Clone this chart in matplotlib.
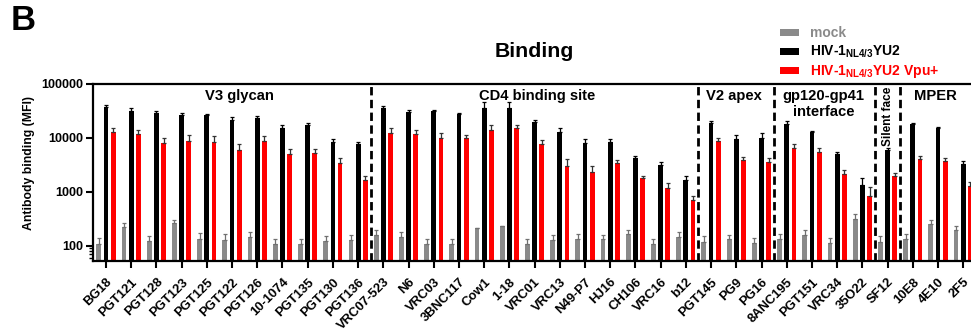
import numpy as np
import matplotlib
matplotlib.use("Agg")
import matplotlib.pyplot as plt
from matplotlib.ticker import FixedLocator, NullFormatter

plt.rcParams['font.family'] = ['Liberation Sans', 'DejaVu Sans']
plt.rcParams['font.weight'] = 'bold'
plt.rcParams['mathtext.fontset'] = 'custom'
plt.rcParams['mathtext.rm'] = 'Liberation Sans'
plt.rcParams['mathtext.bf'] = 'Liberation Sans:bold'

antibodies = ["BG18", "PGT121", "PGT128", "PGT123", "PGT125", "PGT122", "PGT126",
              "10-1074", "PGT135", "PGT130", "PGT136",
              "VRC07-523", "N6", "VRC03", "3BNC117", "Cow1", "1-18", "VRC01", "VRC13",
              "N49-P7", "HJ16", "CH106", "VRC16", "b12",
              "PGT145", "PG9", "PG16",
              "8ANC195", "PGT151", "VRC34", "35O22",
              "SF12",
              "10E8", "4E10", "2F5"]

mock = [109, 222, 124, 259, 135, 127, 143, 107, 110, 122, 129,
        158, 143, 107, 106, 210, 231, 107, 126, 133, 131, 164, 106, 145,
        120, 131, 114,
        135, 160, 114, 312,
        120,
        135, 248, 195]
mock_err = [30, 45, 25, 45, 35, 35, 35, 25, 25, 30, 30,
            35, 35, 25, 25, 0, 0, 25, 30, 30, 30, 35, 25, 35,
            30, 30, 25,
            30, 35, 25, 80,
            30,
            30, 50, 35]

nl43_yu2 = [36500, 31600, 28200, 26300, 25900, 21500, 23100, 14900, 16900, 8430, 7530,
            35900, 29800, 30700, 27000, 35900, 35900, 19800, 12900, 8070, 8320, 4200, 3070, 1670,
            18970, 9580, 9720,
            17700, 12600, 4910, 1310,
            5910,
            17700, 15100, 3250]
nl43_yu2_err = [3000, 3500, 2500, 2000, 2000, 3000, 2500, 2500, 2000, 1200, 900,
                2500, 3000, 2000, 2000, 10000, 10000, 1500, 2500, 1500, 1000, 400, 500, 300,
                1500, 1500, 2500,
                2500, 1000, 500, 500,
                600,
                1000, 1000, 400]

nl43_yu2_vpu = [12900, 11500, 7850, 8660, 8430, 6000, 8790, 4910, 5130, 3350, 1640,
                12400, 11700, 10100, 9860, 13900, 14900, 7640, 2990, 2340, 3350, 1790, 1190, 702,
                8790, 3850, 3540,
                6440, 5510, 2090, 820,
                1920,
                3970, 3700, 1270]
nl43_yu2_vpu_err = [2000, 2500, 2000, 2500, 2500, 1700, 2200, 1200, 1100, 800, 300,
                    2500, 2000, 2000, 1500, 3000, 2500, 1300, 1000, 600, 500, 200, 250, 150,
                    1000, 600, 700,
                    1200, 900, 400, 400,
                    300,
                    600, 500, 250]

# epitope classes: (label, first index, last index)
epitope_groups = [("V3 glycan", 0, 10), ("CD4 binding site", 11, 23), ("V2 apex", 24, 26),
                  ("gp120-gp41\ninterface", 27, 30), ("Silent face", 31, 31), ("MPER", 32, 34)]

GRAY = "#8a8a8a"
RED = "#ff0000"
YMIN = 53

fig = plt.figure(figsize=(9.71, 3.33), dpi=100)
ax = fig.add_axes([93.4 / 971, 1 - 260.7 / 333, 882.4 / 971, 177 / 333])

x = np.arange(len(antibodies))
w = 0.19
off = 0.285

def draw(pos, vals, errs, color, ecolor):
    vals = np.asarray(vals, float)
    ax.bar(pos, vals - YMIN, width=w, bottom=YMIN, color=color, edgecolor='none', zorder=2)
    ax.errorbar(pos, vals, yerr=[np.zeros_like(vals), np.asarray(errs, float)],
                fmt='none', ecolor=ecolor, elinewidth=0.9, capsize=1.3, capthick=0.9, zorder=3)

draw(x - off, mock, mock_err, GRAY, "#707070")
draw(x, nl43_yu2, nl43_yu2_err, "black", "black")
draw(x + off, nl43_yu2_vpu, nl43_yu2_vpu_err, RED, "#333333")

ax.set_yscale('log')
ax.set_ylim(YMIN, 100000)
ax.set_xlim(-0.5, len(antibodies) - 0.5)
ax.set_yticks([100, 1000, 10000, 100000])
ax.set_yticklabels(["100", "1000", "10000", "100000"], fontsize=9, fontweight='bold')
ax.yaxis.set_minor_locator(FixedLocator([60, 70, 80, 90]))
ax.yaxis.set_minor_formatter(NullFormatter())
ax.set_xticks(x)
ax.set_xticklabels(antibodies, rotation=45, ha='right', va='top', rotation_mode='anchor',
                   fontsize=9.4, fontweight='bold')
ax.tick_params(axis='both', which='major', direction='out', length=5, width=1.5, pad=2)
ax.tick_params(axis='y', which='minor', direction='out', length=3, width=1.0)
ax.tick_params(axis='x', pad=6)
for s in ax.spines.values():
    s.set_linewidth(1.6)

ax.set_ylabel("Antibody binding (MFI)", fontsize=8.8, fontweight='bold')
ax.yaxis.set_label_coords(-0.066, 0.55)

# dashed separators between epitope classes
for _, first, last in epitope_groups[:-1]:
    ax.axvline(last + 0.5, color='black', linestyle=(0, (3, 1.6)), linewidth=2.0, zorder=4)

trans = ax.get_xaxis_transform()
label_pos = {"V3 glycan": 5.3, "CD4 binding site": 17.1, "V2 apex": 24.9,
             "gp120-gp41\ninterface": 28.45, "MPER": 32.9}
for name, first, last in epitope_groups:
    if name == "Silent face":
        ax.text(31.0, 0.815, name, transform=trans, rotation=90, ha='center', va='center',
                fontsize=8.5, fontweight='bold')
    else:
        ax.text(label_pos[name], 0.968, name, transform=trans, ha='center', va='top',
                fontsize=10.6, fontweight='bold', linespacing=1.15)

fig.text(534 / 971, 1 - 51.5 / 333, "Binding", ha='center', va='center',
         fontsize=15.3, fontweight='bold')
fig.text(11 / 971, 1 - 21 / 333, "B", ha='left', va='center', fontsize=25, fontweight='bold')

# legend
entries = [(GRAY, "mock", GRAY),
           ("black", r"HIV-1$_{\mathbf{NL4/3}}$YU2", "black"),
           (RED, r"HIV-1$_{\mathbf{NL4/3}}$YU2 Vpu+", RED)]
for i, (c, label, tc) in enumerate(entries):
    yc = 32 + i * 19
    fig.patches.append(plt.Rectangle((780 / 971, 1 - (yc + 3.5) / 333), 19 / 971, 7 / 333,
                                     transform=fig.transFigure, facecolor=c, edgecolor='none'))
    fig.text(810 / 971, 1 - (yc + 1) / 333, label, ha='left', va='center', fontsize=10,
             fontweight='bold', color=tc)

fig.savefig("out.png", dpi=100)
